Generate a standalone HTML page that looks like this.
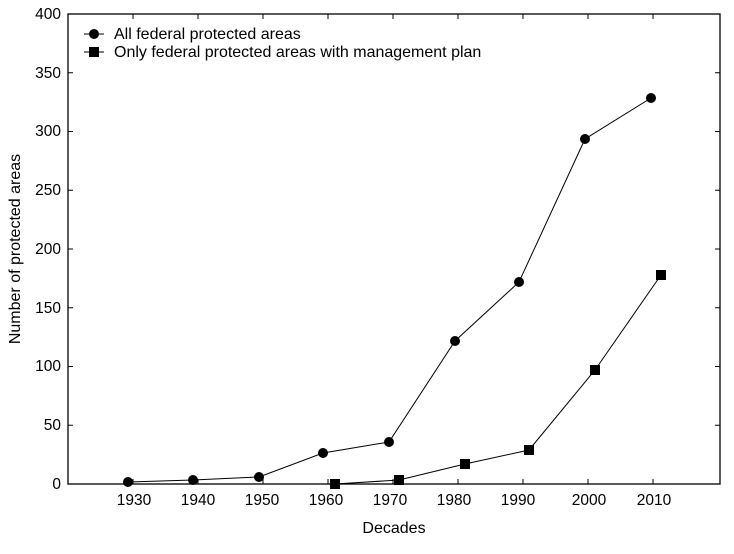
<!DOCTYPE html><html><head><style>body{margin:0;background:#fff}svg{display:block}text{font-family:"Liberation Sans",Arial,sans-serif;fill:#000}</style></head><body>
<svg width="734" height="554" viewBox="0 0 734 554">
<rect x="68" y="14" width="652" height="470" fill="none" stroke="#000" stroke-width="1.3"/>
<g stroke="#000" stroke-width="1">
<path d="M68 425.25h5M68 366.5h5M68 307.75h5M68 249h5M68 190.25h5M68 131.5h5M68 72.75h5M720 425.25h-5M720 366.5h-5M720 307.75h-5M720 249h-5M720 190.25h-5M720 131.5h-5M720 72.75h-5"/>
<path d="M133 484v-5M198 484v-5M263 484v-5M328 484v-5M393 484v-5M458 484v-5M523 484v-5M588 484v-5M653 484v-5M133 14v5M198 14v5M263 14v5M328 14v5M393 14v5M458 14v5M523 14v5M588 14v5M653 14v5"/>
</g>
<g font-size="15.5" text-anchor="end">
<text x="61" y="489">0</text><text x="61" y="430">50</text><text x="61" y="371">100</text><text x="61" y="313">150</text><text x="61" y="254">200</text><text x="61" y="195">250</text><text x="61" y="136">300</text><text x="61" y="78">350</text><text x="61" y="19">400</text>
</g>
<g font-size="15.5" text-anchor="middle">
<text x="134" y="505">1930</text><text x="198" y="505">1940</text><text x="262" y="505">1950</text><text x="326" y="505">1960</text><text x="390" y="505">1970</text><text x="454" y="505">1980</text><text x="518" y="505">1990</text><text x="589" y="505">2000</text><text x="654" y="505">2010</text>
<text x="394" y="533" font-size="16">Decades</text>
<text transform="translate(20 249) rotate(-90)" font-size="16">Number of protected areas</text>
</g>
<polyline fill="none" stroke="#000" points="128,482 193,480 259,477 323,453 389,442 455,341 519,282 585,139 651,98"/>
<g fill="#000"><circle cx="128" cy="482" r="5"/><circle cx="193" cy="480" r="5"/><circle cx="259" cy="477" r="5"/><circle cx="323" cy="453" r="5"/><circle cx="389" cy="442" r="5"/><circle cx="455" cy="341" r="5"/><circle cx="519" cy="282" r="5"/><circle cx="585" cy="139" r="5"/><circle cx="651" cy="98" r="5"/></g>
<polyline fill="none" stroke="#000" points="335,484 399,480 465,464 529,450 595,370 661,275"/>
<g fill="#000"><rect x="330" y="479" width="10" height="10"/><rect x="394" y="475" width="10" height="10"/><rect x="460" y="459" width="10" height="10"/><rect x="524" y="445" width="10" height="10"/><rect x="590" y="365" width="10" height="10"/><rect x="656" y="270" width="10" height="10"/></g>
<path d="M84 34h20M84 52h20" stroke="#000"/>
<circle cx="94" cy="34" r="5"/><rect x="89" y="47" width="10" height="10"/>
<text x="114" y="39" font-size="16">All federal protected areas</text>
<text x="114" y="57" font-size="16">Only federal protected areas with management plan</text>
</svg></body></html>
